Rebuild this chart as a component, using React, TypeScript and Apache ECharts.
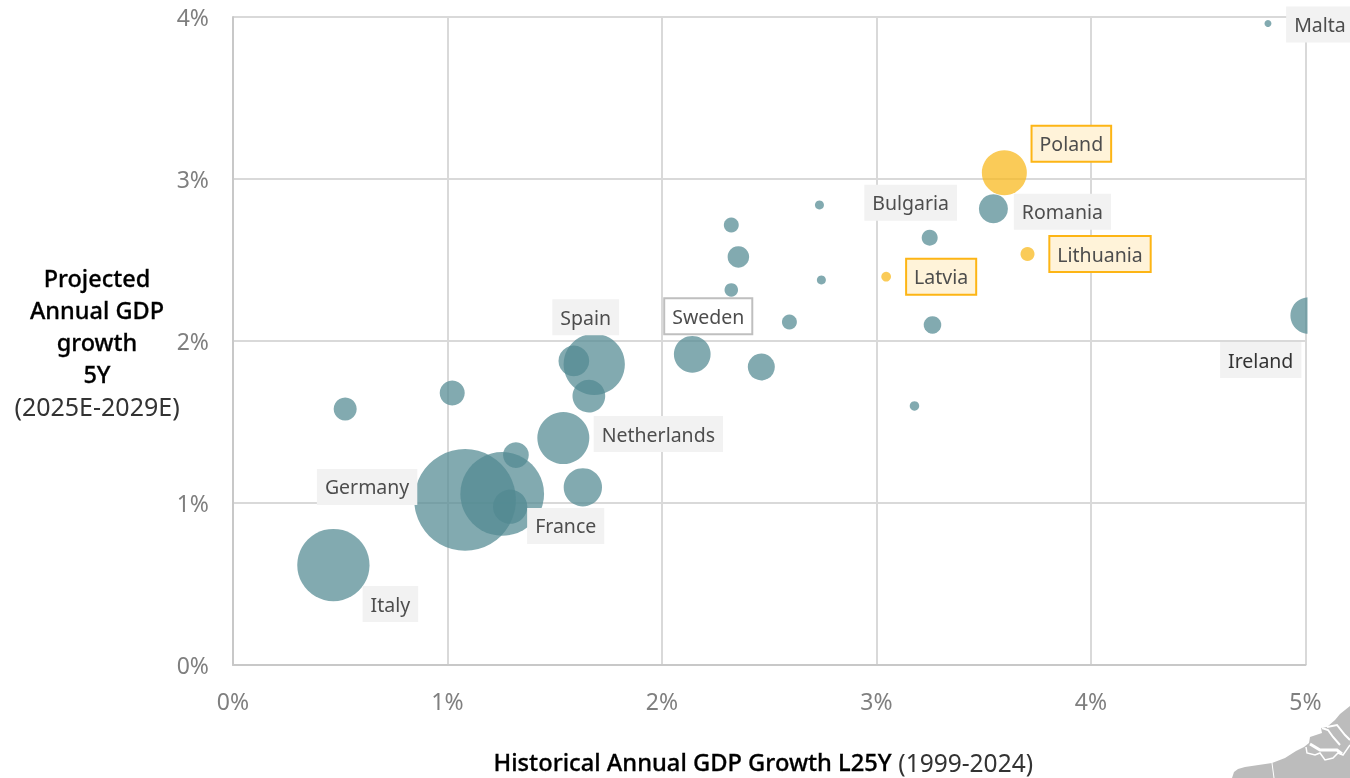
import React, { useEffect, useRef } from "react";
import * as echarts from "echarts";

// One entry per EU member state; unlabelled bubbles carry an empty name.
const countries = [
  "Malta", "Poland", "Romania", "Bulgaria", "Lithuania", "Latvia", "Ireland",
  "Spain", "Sweden", "Netherlands", "Germany", "France", "Italy",
  "", "", "", "", "", "", "", "", "", "", "", "", "", "", "", "",
];
const historicalGrowth = [
  4.825, 3.596, 3.545, 3.248, 3.704, 3.045, 5.015,
  1.684, 2.141, 1.54, 1.082, 1.255, 0.468,
  2.734, 2.323, 2.356, 2.743, 2.323, 2.594, 3.261, 2.463, 3.177, 1.589, 1.659, 1.022, 0.523, 1.319, 1.631, 1.292,
];
const projectedGrowth = [
  3.96, 3.039, 2.817, 2.638, 2.537, 2.397, 2.157,
  1.856, 1.918, 1.401, 1.019, 1.056, 0.617,
  2.84, 2.716, 2.519, 2.377, 2.315, 2.117, 2.099, 1.84, 1.599, 1.877, 1.66, 1.679, 1.58, 1.296, 1.097, 0.977,
];
const gdpSize = [
  21, 877, 364, 111, 85, 41, 580,
  1627, 583, 1170, 4477, 3033, 2263,
  35, 97, 200, 35, 79, 97, 133, 316, 39, 408, 463, 271, 229, 286, 635, 509,
];
const highlighted = ["Poland", "Lithuania", "Latvia"];
const outlined = ["Sweden"];
const xTicks = ["0%", "1%", "2%", "3%", "4%", "5%"];
const yTicks = ["0%", "1%", "2%", "3%", "4%"];
const yTitleLines = ["Projected", "Annual GDP", "growth", "5Y"];
const yTitleNote = "(2025E-2029E)";
const xTitle = "Historical Annual GDP Growth L25Y";
const xTitleNote = "(1999-2024)";

// Label placement relative to each bubble's centre.
const labelOffsets: Record<string, [number, number]> = {
  Malta: [52, 1], Poland: [67, -29], Romania: [69, 3], Bulgaria: [-19, -35],
  Lithuania: [72.5, 0], Latvia: [55, 0], Ireland: [-48, 44.5], Spain: [-8.5, -47],
  Sweden: [16, -38], Netherlands: [95, -4], Germany: [-98, -13], France: [63.5, 32],
  Italy: [57, 39],
};

const FONT = '"Noto Sans", sans-serif';
const TEAL = "#528992";
const AMBER = "#f8b717";

// Decorative corner of the basemap.
echarts.graphic.registerShape(
  "coastLand",
  echarts.graphic.extendPath(
    "M1232 778 L1234 772 L1238 769 L1245 767 L1272 763 L1285 758 L1296 751 L1304 747 L1309 743 L1310 737 L1316 735 L1322 733 L1321 728 L1327 727 L1335 720 L1340 714 L1350 706 L1350 778 Z",
    {}
  )
);
const coastLines: { points: number[][]; width: number }[] = [
  { points: [[1272, 763], [1274, 778]], width: 1 },
  { points: [[1306, 747], [1307, 753], [1315, 755], [1320, 753], [1325, 760], [1333, 758], [1338, 753], [1343, 755], [1350, 745]], width: 1.5 },
  { points: [[1310, 744], [1320, 750], [1337, 750], [1342, 754]], width: 3 },
  { points: [[1322, 728], [1328, 730], [1333, 737], [1340, 745]], width: 2 },
  { points: [[1327, 727], [1337, 725], [1345, 735], [1350, 740]], width: 2 },
];

function labelStyle(name: string) {
  const base = {
    show: true,
    formatter: name,
    position: "inside",
    align: "center",
    verticalAlign: "middle",
    offset: labelOffsets[name],
    fontFamily: FONT,
    fontSize: 19.5,
    color: name === "Ireland" ? "#333333" : "#4d4d4d",
    lineHeight: 24,
    padding: [9, 8, 3, 8],
    backgroundColor: "#f2f2f2",
  };
  if (highlighted.includes(name)) {
    return { ...base, backgroundColor: "#fff3d9", borderColor: "#fdb515", borderWidth: 2, padding: [8, 7, 2, 7] };
  }
  if (outlined.includes(name)) {
    return { ...base, backgroundColor: "#ffffff", borderColor: "#bfbfbf", borderWidth: 2, padding: [8, 7, 2, 7] };
  }
  return base;
}

export default function App() {
  const ref = useRef<HTMLDivElement>(null);

  useEffect(() => {
    const chart = echarts.init(ref.current!, null, { renderer: "svg" });
    const bubbleData = countries.map((name, i) => ({
      value: [historicalGrowth[i], projectedGrowth[i], gdpSize[i]],
      itemStyle: { color: highlighted.includes(name) ? AMBER : TEAL, opacity: 0.72 },
    }));
    const labelData = countries
      .map((name, i) => ({ name, value: [historicalGrowth[i], projectedGrowth[i]] }))
      .filter((d) => d.name !== "")
      .map((d) => ({ ...d, label: labelStyle(d.name) }));

    chart.setOption({
      animation: false,
      grid: { left: 233, top: 17, width: 1072.5, height: 648, outerBoundsMode: "none" },
      xAxis: {
        type: "value",
        min: 0,
        max: 5,
        interval: 1,
        name: `{b|${xTitle}}  {n|${xTitleNote}}`,
        nameLocation: "middle",
        nameMoveOverlap: false,
        nameGap: 85,
        nameTextStyle: {
          padding: [0, 12, 0, 0],
          rich: {
            b: { fontFamily: FONT, fontSize: 23.7, fontWeight: 500, color: "#000000", lineHeight: 24, textBorderColor: "#000000", textBorderWidth: 0.3 },
            n: { fontFamily: FONT, fontSize: 24.5, color: "#333333", lineHeight: 24 },
          },
        },
        axisLine: { show: true, lineStyle: { color: "#c8c8c8", width: 2 } },
        axisTick: { show: false },
        splitLine: { show: true, lineStyle: { color: "#d9d9d9", width: 2 } },
        axisLabel: {
          margin: 24,
          fontFamily: FONT,
          fontSize: 23,
          color: "#7f7f7f",
          formatter: (v: number) => xTicks[v],
        },
      },
      yAxis: {
        type: "value",
        min: 0,
        max: 4,
        interval: 1,
        name: [...yTitleLines.map((l) => `{b|${l}}`), `{n|${yTitleNote}}`].join("\n"),
        nameLocation: "middle",
        nameMoveOverlap: false,
        nameRotate: 0,
        nameGap: 136,
        nameTextStyle: {
          align: "center",
          verticalAlign: "middle",
          padding: [2, 0, 0, 0],
          rich: {
            b: { fontFamily: FONT, fontSize: 23.5, fontWeight: 500, color: "#000000", lineHeight: 32, align: "center", textBorderColor: "#000000", textBorderWidth: 0.3 },
            n: { fontFamily: FONT, fontSize: 25, color: "#333333", lineHeight: 32, align: "center" },
          },
        },
        axisLine: { show: true, lineStyle: { color: "#c8c8c8", width: 2 } },
        axisTick: { show: false },
        splitLine: { show: true, lineStyle: { color: "#d9d9d9", width: 2 } },
        axisLabel: {
          margin: 24,
          fontFamily: FONT,
          fontSize: 23,
          color: "#7f7f7f",
          padding: [2, 0, 0, 0],
          formatter: (v: number) => yTicks[v],
        },
      },
      series: [
        {
          type: "scatter",
          data: bubbleData,
          symbolSize: (v: number[]) => 1.52 * Math.sqrt(v[2]),
          clip: false,
          z: 3,
        },
        {
          type: "scatter",
          data: labelData,
          symbolSize: 1,
          clip: false,
          itemStyle: { color: "rgba(0,0,0,0)", opacity: 1 },
          z: 5,
        },
      ],
      graphic: [
        { type: "coastLand", x: 0, y: 0, silent: true, z: 1, style: { fill: "#bcbcbc" } },
        ...coastLines.map((l) => ({
          type: "polyline",
          silent: true,
          z: 2,
          shape: { points: l.points },
          style: { stroke: "#ffffff", lineWidth: l.width, fill: "none" },
        })),
        // trims the part of the edge bubble that runs past the plot frame
        {
          type: "rect",
          silent: true,
          z: 4,
          shape: { x: 1307.5, y: 290, width: 42.5, height: 50 },
          style: { fill: "#ffffff" },
        },
      ],
    });
    return () => chart.dispose();
  }, []);

  return <div ref={ref} style={{ position: "fixed", left: 0, top: 0, width: 1350, height: 778 }} />;
}
